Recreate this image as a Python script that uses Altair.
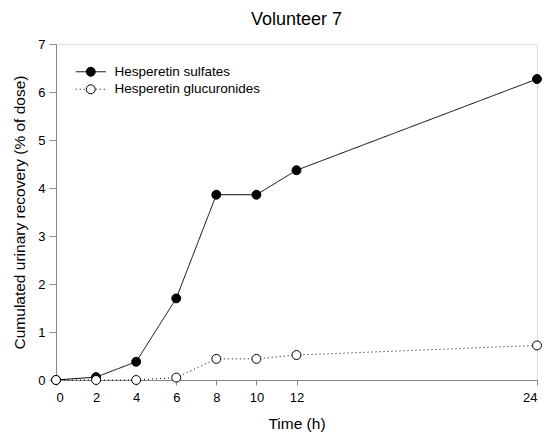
import altair as alt
import pandas as pd

# ---- data ----
time_h = [0, 2, 4, 6, 8, 10, 12, 24]
sulfates = [0.0, 0.06, 0.38, 1.70, 3.86, 3.86, 4.37, 6.27]
glucuronides = [0.0, 0.0, 0.0, 0.05, 0.44, 0.44, 0.52, 0.72]
series_names = ["Hesperetin sulfates", "Hesperetin glucuronides"]
x_ticks = [0, 2, 4, 6, 8, 10, 12, 24]
y_ticks = [0, 1, 2, 3, 4, 5, 6, 7]

rows = []
for name, vals in zip(series_names, [sulfates, glucuronides]):
    for t, v in zip(time_h, vals):
        rows.append({"time": t, "value": v, "series": name, "marker": name})
df = pd.DataFrame(rows)

FONT = "Liberation Sans"

x_enc = alt.X(
    "time:Q",
    scale=alt.Scale(domain=[0, 24], nice=False, zero=True),
    axis=alt.Axis(values=x_ticks, title="Time (h)", grid=False, tickSize=5,
                  labelPadding=6, titlePadding=12, labelFontSize=13,
                  titleFontSize=15.5, titleFontWeight="normal", format="d"),
)
y_enc = alt.Y(
    "value:Q",
    scale=alt.Scale(domain=[0, 7], nice=False, zero=True),
    axis=alt.Axis(values=y_ticks, title="Cumulated urinary recovery (% of dose)",
                  grid=False, tickSize=7, labelPadding=4, titlePadding=10,
                  labelFontSize=13, titleFontSize=15.5,
                  titleFontWeight="normal", format="d"),
)

lines = alt.Chart(df).mark_line(color="black", strokeWidth=1).encode(
    x=x_enc,
    y=y_enc,
    strokeDash=alt.StrokeDash(
        "series:N",
        sort=series_names,
        scale=alt.Scale(domain=series_names, range=[[1, 0], [1, 3]]),
        legend=alt.Legend(
            orient="none", legendX=28, legendY=21, title=None,
            symbolType="M-3,0L3,0", symbolSize=100, symbolStrokeColor="black",
            symbolStrokeWidth=1, symbolFillColor="transparent",
            labelFont=FONT, labelFontSize=13.5,
            labelColor="black", labelOffset=17, rowPadding=2.5,
        ),
    ),
)

points = alt.Chart(df).mark_point(
    shape="circle", size=80, filled=True, stroke="black", strokeWidth=1,
    opacity=1, fillOpacity=1,
).encode(
    x=x_enc,
    y=y_enc,
    fill=alt.Fill(
        "marker:N",
        sort=series_names,
        scale=alt.Scale(domain=series_names, range=["black", "white"]),
        legend=alt.Legend(
            orient="none", legendX=28, legendY=21, title=None,
            symbolType="circle", symbolSize=80, symbolStrokeColor="black",
            symbolStrokeWidth=1, labelFont=FONT, labelFontSize=13.5,
            labelExpr="''", labelOffset=0, rowPadding=2.5,
        ),
    ),
)

chart = (
    alt.layer(lines, points)
    .resolve_scale(strokeDash="independent", fill="independent")
    .properties(
        width=481,
        height=336,
        autosize=alt.AutoSizeParams(type="none"),
        padding={"left": 48, "top": 36, "right": 5, "bottom": 56},
        title=alt.TitleParams("Volunteer 7", fontSize=18, font=FONT,
                              fontWeight="normal", color="black",
                              anchor="middle", offset=9),
    )
    .configure_view(stroke=None)
    .configure_axis(
        domainColor="black", tickColor="black", labelColor="black",
        titleColor="black", labelFont=FONT, titleFont=FONT,
        titleFontWeight="normal", domainWidth=1, tickWidth=1,
    )
    .configure(background="white")
)

chart.save("out.html", embed_options={"renderer": "svg", "actions": False})
